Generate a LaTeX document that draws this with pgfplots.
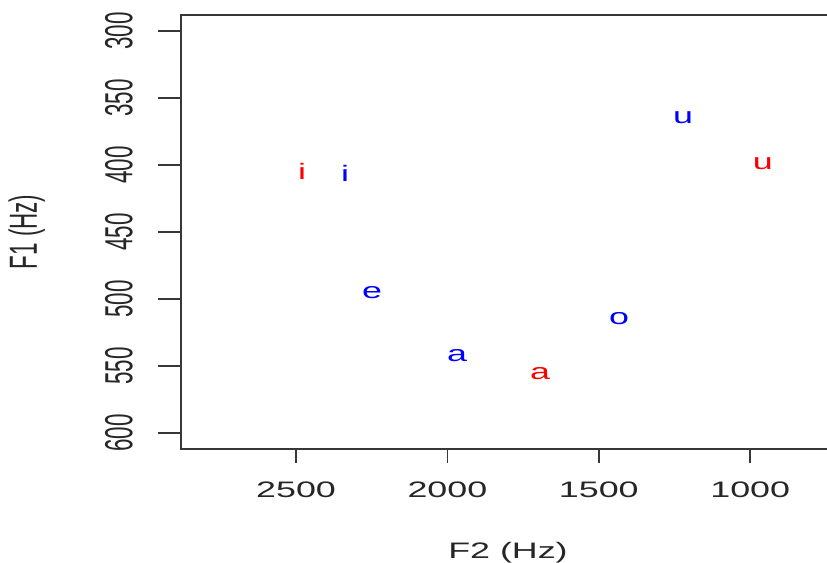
\documentclass[border=0pt]{standalone}
\usepackage{fontspec}
\setmainfont[FakeStretch=1.6]{Liberation Sans}
\newfontfamily\plainfont{Liberation Sans}
\usepackage{graphicx}
\usepackage{pgfplots}
\usepackage{pgfplotstable}
\pgfplotsset{compat=1.18}

\pgfplotstableread{
x y label
2480 405 i
958 399 u
1694 556 a
}\redvowels

\pgfplotstableread{
x y label
2338 406 i
2249 495 e
1968 542 a
1433 515 o
1222 365 u
}\bluevowels

\definecolor{rred}{RGB}{255,0,0}
\definecolor{rblue}{RGB}{0,0,255}
\definecolor{axgray}{RGB}{55,55,55}

\begin{document}
\begin{tikzpicture}[font=\fontsize{11.2}{13.4}\selectfont]
\begin{axis}[
  at={(0,0)}, anchor=south west,
  scale only axis, width=327pt, height=217pt,
  xmin=720, xmax=2880, ymin=288, ymax=612,
  x dir=reverse, y dir=reverse,
  xtick={1000,1500,2000,2500},
  ytick={300,350,400,450,500,550,600},
  xtick pos=lower, ytick pos=left,
  tick align=outside,
  minor tick num=0,
  axis line style={line width=0.9pt, axgray},
  every tick/.style={line width=0.9pt, axgray},
  xtick style={/pgfplots/major tick length=7pt},
  ytick style={/pgfplots/major tick length=11.5pt},
  /pgf/number format/assume math mode=true,
  /pgf/number format/1000 sep={},
  xticklabel={\pgfmathprintnumber{\tick}},
  yticklabel={\scalebox{1}[1.75]{\plainfont\pgfmathprintnumber{\tick}}},
  xticklabel style={anchor=north, inner sep=0pt, yshift=-12pt, text=black!85},
  yticklabel style={xshift=-20pt, rotate=90, anchor=base, inner sep=0pt, text=black!85},
  xlabel={F2 (Hz)},
  ylabel={\scalebox{1}[1.75]{\plainfont F1 (Hz)}},
  every axis x label/.style={at={(axis description cs:0.5,0)}, yshift=-54.5pt, anchor=base, text=black!85},
  every axis y label/.style={at={(axis description cs:0,0.5)}, xshift=-72pt, rotate=90, anchor=base, text=black!85},
  clip=false,
]
\addplot[only marks, mark=none, nodes near coords, point meta=explicit symbolic,
  nodes near coords style={anchor=center, inner sep=0pt, text=rred}]
  table[x=x, y=y, meta=label] {\redvowels};
\addplot[only marks, mark=none, nodes near coords, point meta=explicit symbolic,
  nodes near coords style={anchor=center, inner sep=0pt, text=rblue}]
  table[x=x, y=y, meta=label] {\bluevowels};
\end{axis}
\pgfresetboundingbox
\useasboundingbox (-90.5pt,-57pt) rectangle (323pt,224.5pt);
\end{tikzpicture}
\end{document}
